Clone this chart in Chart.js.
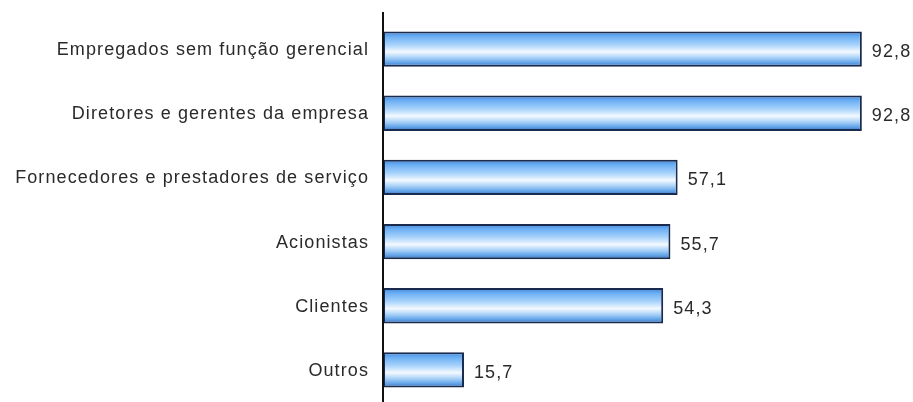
<!DOCTYPE html>
<html>
<head>
<meta charset="utf-8">
<script src="https://cdn.jsdelivr.net/npm/chart.js@4/dist/chart.umd.min.js"></script>
<style>
  html, body { margin: 0; padding: 0; background: #ffffff; }
  #wrap { width: 913px; height: 402px; position: relative; }
</style>
</head>
<body>
<div id="wrap"><canvas id="c"></canvas></div>
<script>
// Categories and percentages
const categories = [
  'Empregados sem função gerencial',
  'Diretores e gerentes da empresa',
  'Fornecedores e prestadores de serviço',
  'Acionistas',
  'Clientes',
  'Outros'
];
const values = [92.8, 92.8, 57.1, 55.7, 54.3, 15.7];
const valueLabels = ['92,8', '92,8', '57,1', '55,7', '54,3', '15,7'];

const BAR_PCT = 0.55;
const TEXT_FONT = '18px "Liberation Sans", Arial, sans-serif';
const TEXT_COLOR = '#2a2a2a';

// Vertical shading across each bar: blue edges, white band near the middle
function barFill(ctx) {
  const chart = ctx.chart;
  const ys = chart.scales && chart.scales.y;
  if (!ys || !chart.chartArea) return '#7db4f0';
  const cy = ys.getPixelForValue(ctx.dataIndex);
  const band = (ys.bottom - ys.top) / categories.length;
  const h = band * BAR_PCT;
  if (!isFinite(cy) || !isFinite(h) || h <= 0) return '#7db4f0';
  const g = chart.ctx.createLinearGradient(0, cy - h / 2, 0, cy + h / 2);
  g.addColorStop(0.0, '#3f86dc');
  g.addColorStop(0.15, '#6db0f4');
  g.addColorStop(0.38, '#a8d3fb');
  g.addColorStop(0.58, '#f4f9ff');
  g.addColorStop(0.75, '#a6d0f8');
  g.addColorStop(0.9, '#5c9fe6');
  g.addColorStop(1.0, '#2f6cc0');
  return g;
}

// Category names right-aligned against the axis, and values after each bar
const textLabels = {
  id: 'textLabels',
  afterDatasetsDraw(chart) {
    const c = chart.ctx;
    const ys = chart.scales.y;
    const meta = chart.getDatasetMeta(0);
    c.save();
    c.font = TEXT_FONT;
    c.fillStyle = TEXT_COLOR;
    c.textBaseline = 'middle';
    if ('letterSpacing' in c) c.letterSpacing = '1.1px';
    c.textAlign = 'right';
    chart.data.labels.forEach((lab, i) => {
      c.fillText(lab, chart.chartArea.left - 14, ys.getPixelForValue(i) + 1);
    });
    c.textAlign = 'left';
    meta.data.forEach((bar, i) => {
      c.fillText(valueLabels[i], bar.x + 10, bar.y + 3);
    });
    c.restore();
  }
};

// Vertical axis line, slightly taller than the plot area
const axisLine = {
  id: 'axisLine',
  afterDraw(chart) {
    const c = chart.ctx;
    const a = chart.chartArea;
    c.save();
    c.strokeStyle = '#111111';
    c.lineWidth = 2;
    c.beginPath();
    c.moveTo(a.left, a.top - 5);
    c.lineTo(a.left, chart.height);
    c.stroke();
    c.restore();
  }
};

new Chart(document.getElementById('c'), {
  type: 'bar',
  data: {
    labels: categories,
    datasets: [{
      data: values,
      backgroundColor: barFill,
      borderColor: '#1b2b4d',
      borderWidth: 2,
      borderSkipped: false,
      barPercentage: BAR_PCT,
      categoryPercentage: 1.0
    }]
  },
  options: {
    indexAxis: 'y',
    responsive: true,
    maintainAspectRatio: false,
    animation: false,
    layout: { padding: { top: 17, bottom: 0, left: 0, right: 14 } },
    plugins: {
      legend: { display: false },
      tooltip: { enabled: false }
    },
    scales: {
      x: {
        min: 0,
        max: 100,
        display: false
      },
      y: {
        grid: { display: false, drawTicks: false },
        border: { display: false },
        ticks: { display: false },
        afterFit(scale) { scale.width = 383; }
      }
    }
  },
  plugins: [textLabels, axisLine]
});
</script>
</body>
</html>
